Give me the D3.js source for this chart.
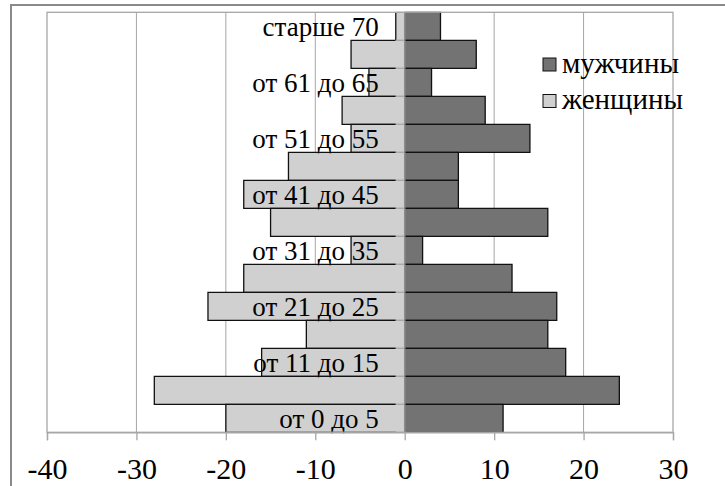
<!DOCTYPE html>
<html>
<head>
<meta charset="utf-8">
<script src="https://cdn.jsdelivr.net/npm/d3@7"></script>
<style>
  html, body { margin: 0; padding: 0; background: #fff; }
  svg { display: block; }
  text { font-family: "Liberation Serif", "Times New Roman", serif; fill: #000; }
</style>
</head>
<body>
<svg id="chart" width="725" height="486"></svg>
<script>
// Categories, bottom to top
const categories = ["от 0 до 5", "от 6 до 10", "от 11 до 15", "от 16 до 20", "от 21 до 25",
  "от 26 до 30", "от 31 до 35", "от 36 до 40", "от 41 до 45", "от 46 до 50",
  "от 51 до 55", "от 56 до 60", "от 61 до 65", "от 66 до 70", "старше 70"];
// Series values
const men   = [11, 24, 18, 16, 17, 12, 2, 16, 6, 6, 14, 9, 3, 8, 4];
const women = [-20, -28, -16, -11, -22, -18, -6, -15, -18, -13, -6, -7, -4, -6, -1];
const seriesNames = ["мужчины", "женщины"];
const xTicks = [-40, -30, -20, -10, 0, 10, 20, 30];

(function () {
const colMen = "#737373", colWomen = "#d0d0d0";
const serif = '"Liberation Serif", "Times New Roman", serif';
const svg = d3.select("#chart");

const pL = 47, pR = 673, pT = 12.3, pB = 432.3;
const x = d3.scaleLinear().domain([-40, 30]).range([pL, pR]);
const y = d3.scaleBand().domain(categories.slice().reverse()).range([pT, pB]).padding(0);

// outer frame
svg.append("rect").attr("x", 11).attr("y", 5).attr("width", 730).attr("height", 500)
  .attr("fill", "#fff").attr("stroke", "#8a8a8a").attr("stroke-width", 2);

// gridlines
svg.append("g").selectAll("line").data(xTicks.filter(t => t > -40 && t < 30 && t !== 0)).join("line")
  .attr("x1", d => x(d)).attr("x2", d => x(d)).attr("y1", pT).attr("y2", pB)
  .attr("stroke", "#a6a6a6").attr("stroke-width", 1);

const rows = categories.map((c, i) => ({c, i, m: men[i], w: women[i]}));

// bar fills
svg.append("g").selectAll("rect").data(rows).join("rect")
  .attr("x", d => x(d.w)).attr("width", d => x(0) - x(d.w))
  .attr("y", d => y(d.c)).attr("height", y.bandwidth()).attr("fill", colWomen);
svg.append("g").selectAll("rect").data(rows).join("rect")
  .attr("x", x(0)).attr("width", d => x(d.m) - x(0))
  .attr("y", d => y(d.c)).attr("height", y.bandwidth()).attr("fill", colMen);

// category labels (every other)
svg.append("g").selectAll("text").data(rows.filter(d => d.i % 2 === 0)).join("text")
  .attr("x", x(0) - 26).attr("y", d => y(d.c) + y.bandwidth() / 2 + 10)
  .attr("text-anchor", "end").attr("font-size", 27).style("font-family", serif).text(d => d.c);

// bar outlines
const bw = y.bandwidth();
svg.append("g").selectAll("path").data(rows).join("path")
  .attr("d", d => {
    const x0 = x(d.w), x1 = Math.min(x(-1), x(0)), yt = y(d.c), yb = yt + bw;
    return `M${x1},${yt}H${x0}V${yb}H${x1}`;
  })
  .attr("fill", "none").attr("stroke", "#111").attr("stroke-width", 1.3);
svg.append("g").selectAll("path").data(rows).join("path")
  .attr("d", d => {
    const x0 = x(-1), x1 = x(0), yt = y(d.c), yb = yt + bw;
    return `M${x0},${yt}H${x1}M${x0},${yb}H${x1}`;
  })
  .attr("fill", "none").attr("stroke", "#a8a8a8").attr("stroke-width", 1.3);
svg.append("g").selectAll("path").data(rows).join("path")
  .attr("d", d => {
    const x0 = x(0), x1 = x(d.m), yt = y(d.c), yb = yt + bw;
    return `M${x0},${yt}H${x1}V${yb}H${x0}`;
  })
  .attr("fill", "none").attr("stroke", "#111").attr("stroke-width", 1.3);

// zero axis line
svg.append("line").attr("x1", x(0)).attr("x2", x(0)).attr("y1", pT).attr("y2", pB)
  .attr("stroke", "#8c8c8c").attr("stroke-width", 1.5);

// plot area border
svg.append("rect").attr("x", pL).attr("y", pT).attr("width", pR - pL).attr("height", pB - pT)
  .attr("fill", "none").attr("stroke", "#a6a6a6").attr("stroke-width", 1.3);

// x axis
const ax = svg.append("g").attr("transform", `translate(0,${pB})`)
  .call(d3.axisBottom(x).tickValues(xTicks).tickSize(8).tickPadding(17).tickFormat(d3.format("d")))
  .attr("font-family", serif);
ax.select(".domain").attr("stroke", "#a6a6a6").attr("stroke-width", 1.3);
ax.selectAll(".tick line").attr("stroke", "#a6a6a6").attr("stroke-width", 1.3);
ax.selectAll(".tick text").attr("font-size", 30).style("font-family", serif).attr("fill", "#000")
  .text(d => d < 0 ? "-" + Math.abs(d) : String(d));

// legend
const leg = svg.append("g");
const legY = [64.5, 101];
[colMen, colWomen].forEach((c, i) => {
  leg.append("rect").attr("x", 543).attr("y", legY[i] - 6.5).attr("width", 13).attr("height", 13)
    .attr("fill", c).attr("stroke", "#111").attr("stroke-width", 1);
  leg.append("text").attr("x", 562).attr("y", legY[i] + 8).attr("font-size", 29)
    .style("font-family", serif).text(seriesNames[i]);
});
})();
</script>
</body>
</html>
